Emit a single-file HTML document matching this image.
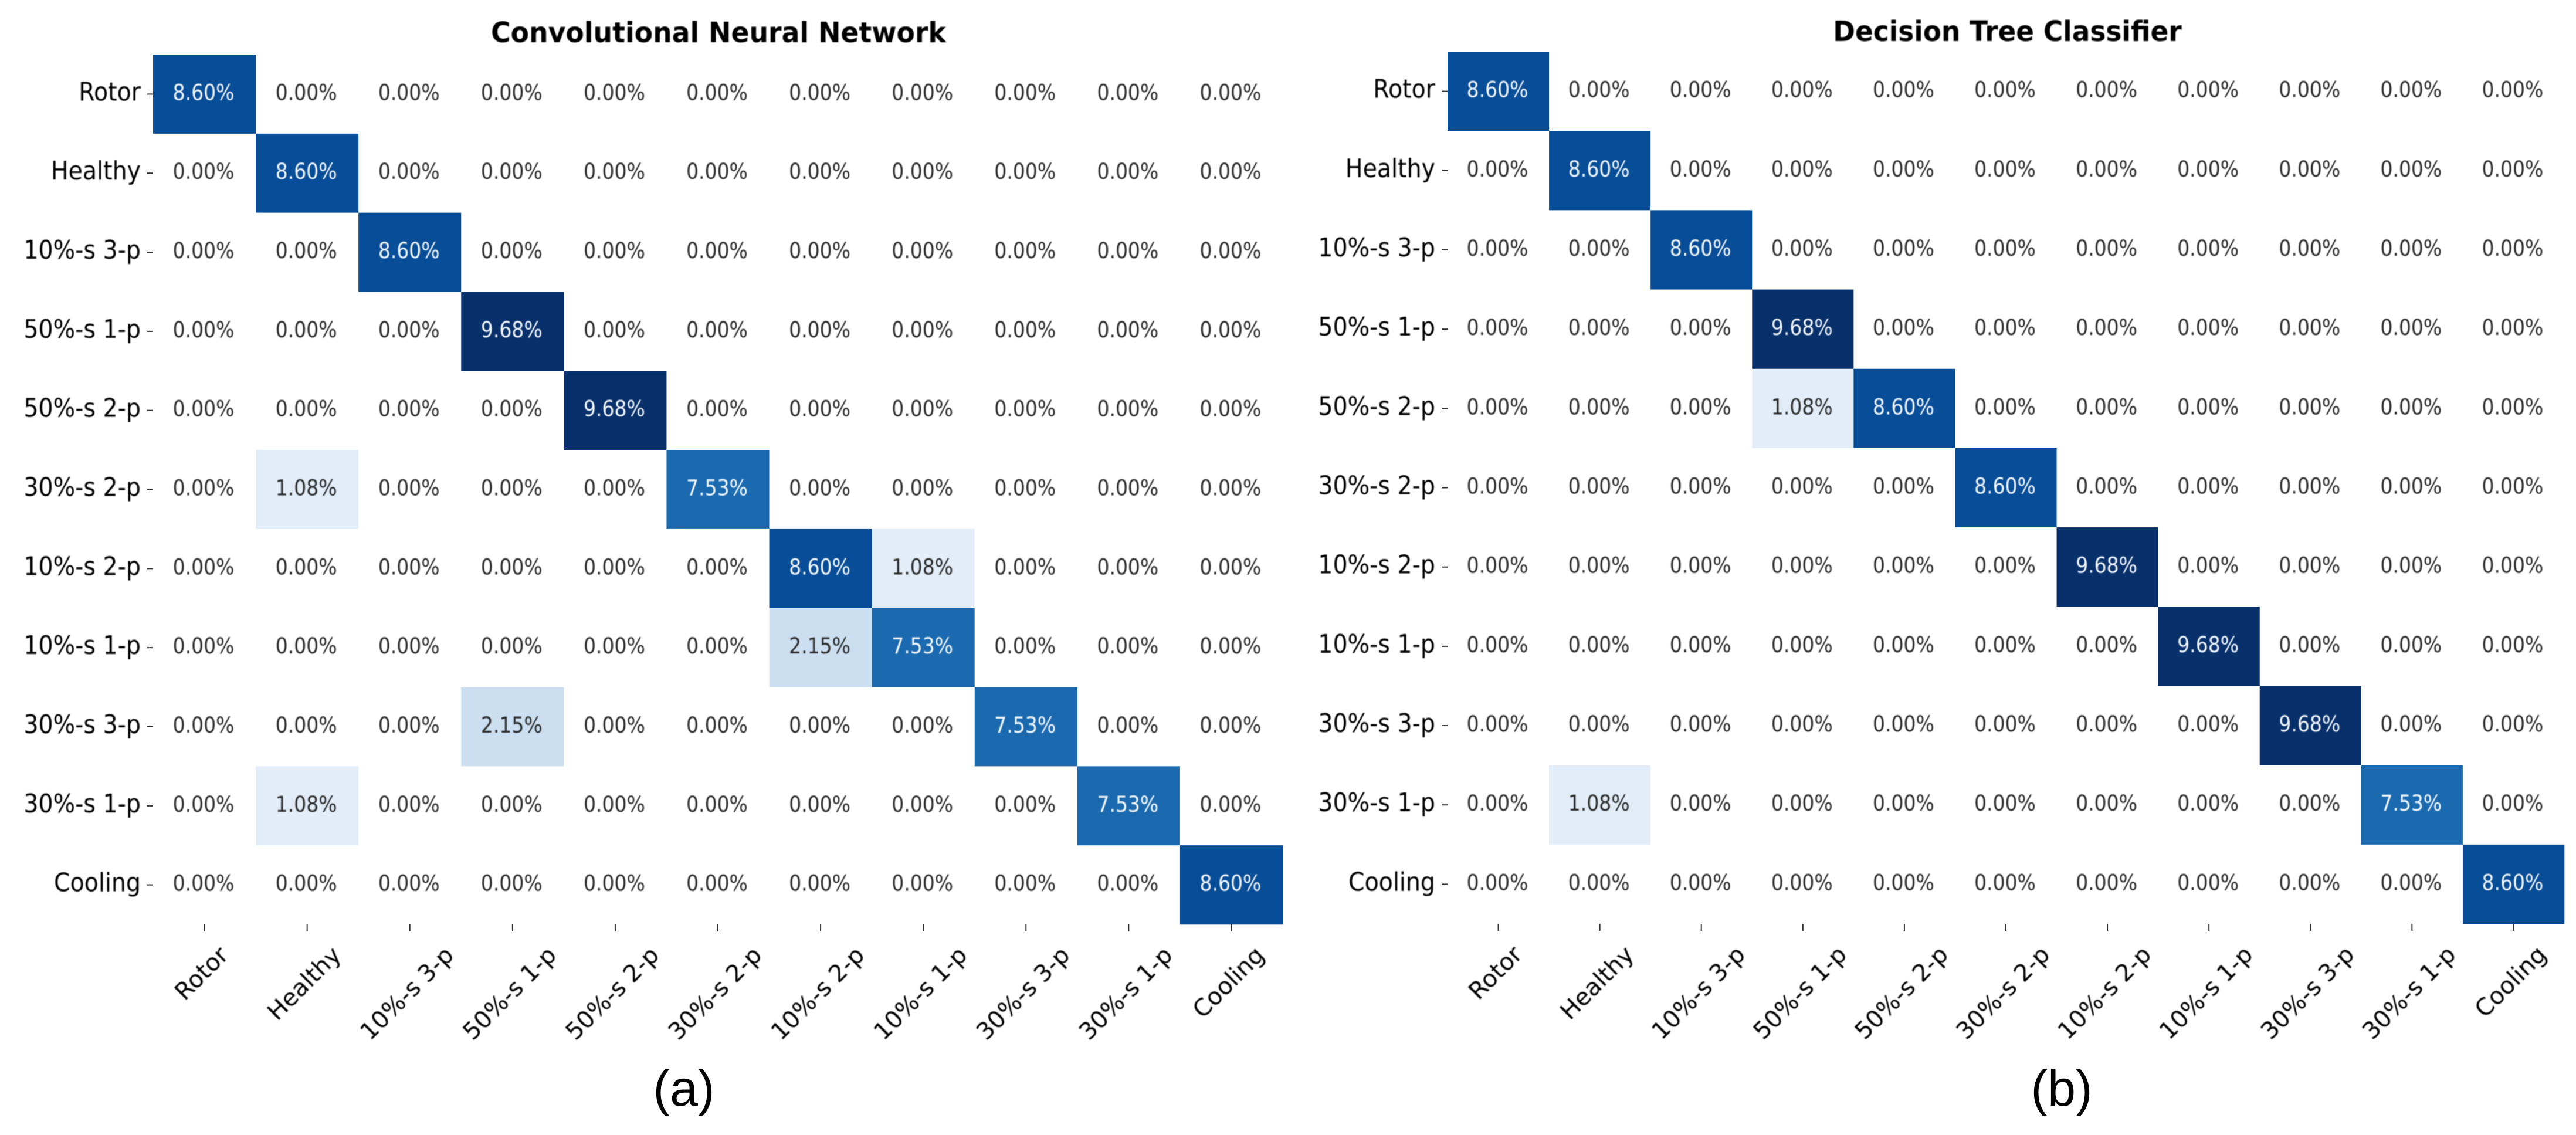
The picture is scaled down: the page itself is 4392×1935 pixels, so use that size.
<!DOCTYPE html>
<html lang="en">
<head>
<meta charset="utf-8">
<title>Confusion matrices</title>
<style>
html,body{margin:0;padding:0;background:#fff;width:4392px;height:1935px;overflow:hidden}
svg{display:block}
text{font-family:"DejaVu Sans","Liberation Sans",sans-serif}
.soft{filter:blur(0.8px)}
</style>
</head>
<body>
<svg id="chart" xmlns="http://www.w3.org/2000/svg" width="4392" height="1935" viewBox="0 0 4392 1935"></svg>
<script>
const categories = ["Rotor","Healthy","10%-s 3-p","50%-s 1-p","50%-s 2-p","30%-s 2-p","10%-s 2-p","10%-s 1-p","30%-s 3-p","30%-s 1-p","Cooling"];
const cnnValues = [
 [8.60,0,0,0,0,0,0,0,0,0,0],
 [0,8.60,0,0,0,0,0,0,0,0,0],
 [0,0,8.60,0,0,0,0,0,0,0,0],
 [0,0,0,9.68,0,0,0,0,0,0,0],
 [0,0,0,0,9.68,0,0,0,0,0,0],
 [0,1.08,0,0,0,7.53,0,0,0,0,0],
 [0,0,0,0,0,0,8.60,1.08,0,0,0],
 [0,0,0,0,0,0,2.15,7.53,0,0,0],
 [0,0,0,2.15,0,0,0,0,7.53,0,0],
 [0,1.08,0,0,0,0,0,0,0,7.53,0],
 [0,0,0,0,0,0,0,0,0,0,8.60]
];
const treeValues = [
 [8.60,0,0,0,0,0,0,0,0,0,0],
 [0,8.60,0,0,0,0,0,0,0,0,0],
 [0,0,8.60,0,0,0,0,0,0,0,0],
 [0,0,0,9.68,0,0,0,0,0,0,0],
 [0,0,0,1.08,8.60,0,0,0,0,0,0],
 [0,0,0,0,0,8.60,0,0,0,0,0],
 [0,0,0,0,0,0,9.68,0,0,0,0],
 [0,0,0,0,0,0,0,9.68,0,0,0],
 [0,0,0,0,0,0,0,0,9.68,0,0],
 [0,1.08,0,0,0,0,0,0,0,7.53,0],
 [0,0,0,0,0,0,0,0,0,0,8.60]
];
const colorStops = ["#ffffff","#deebf7","#c6dbef","#9ecae1","#6baed6","#4292c6","#2171b5","#08519c","#08306b"];
const maxValue = 9.68;

const NS = "http://www.w3.org/2000/svg";
const svg = document.getElementById("chart");

function make(parent, tag, attrs, text) {
  const el = document.createElementNS(NS, tag);
  for (const k in attrs) el.setAttribute(k, attrs[k]);
  if (text !== undefined) el.textContent = text;
  parent.appendChild(el);
  return el;
}
function hexToRgb(h) {
  return [parseInt(h.slice(1,3),16), parseInt(h.slice(3,5),16), parseInt(h.slice(5,7),16)];
}
function colorFor(v) {
  const t = Math.max(0, Math.min(1, v / maxValue)) * (colorStops.length - 1);
  const i = Math.min(colorStops.length - 2, Math.floor(t));
  const f = t - i;
  const a = hexToRgb(colorStops[i]);
  const b = hexToRgb(colorStops[i + 1]);
  return "rgb(" + a.map((c, n) => Math.round(c + (b[n] - c) * f)).join(",") + ")";
}
function place(x, y, sx, sy) {
  return "translate(" + x + "," + y + ") scale(" + sx + "," + sy + ")";
}

function drawPanel(cfg) {
  const xScale = i => cfg.left + i * (cfg.right - cfg.left) / categories.length;
  const yScale = i => cfg.top + i * (cfg.bottom - cfg.top) / categories.length;
  const cw = xScale(1) - xScale(0);
  const ch = yScale(1) - yScale(0);

  const panel = make(svg, "g", {});
  
  

  const title = make(panel, "text", {transform: place(cfg.titleX, cfg.titleY, cfg.titleScale, 1.04), "text-anchor": "middle", "font-size": 46, "font-weight": 700, fill: "#000", class: "soft"}, cfg.title);
  
  

  cfg.values.forEach((row, r) => {
    row.forEach((v, c) => {
      const cell = make(panel, "rect", {x: xScale(c), y: yScale(r), width: cw + 0.3, height: ch + 0.3, fill: colorFor(v)});
      
      
    });
  });
  cfg.values.forEach((row, r) => {
    row.forEach((v, c) => {
      const label = make(panel, "text", {
        transform: place(xScale(c) + cw / 2 - 1.5, yScale(r) + ch / 2 + 10, 1, 1.14),
        "text-anchor": "middle",
        "font-size": 33,
        fill: v > maxValue / 2 ? "#f4f8fd" : "#2a2a2a",
        class: "soft"
      }, v.toFixed(2) + "%");
      
      
    });
  });

  categories.forEach((name, i) => {
    const cy = yScale(i) + ch / 2;
    const tickY = make(panel, "line", {x1: cfg.left - 10, x2: cfg.left, y1: cy, y2: cy, stroke: "#333", "stroke-width": 2});
    
    
    const labelY = make(panel, "text", {transform: place(cfg.left - 21, cy + 11, 1, 1.1), "text-anchor": "end", "font-size": 39.5, fill: "#000", class: "soft"}, name);
    
    

    const cx = xScale(i) + cw / 2;
    const tickX = make(panel, "line", {x1: cx, x2: cx, y1: cfg.bottom, y2: cfg.bottom + 12, stroke: "#333", "stroke-width": 2});
    
    
    const labelX = make(panel, "text", {x: 0, y: 13, "text-anchor": "middle", "font-size": 40.5, fill: "#000", class: "soft"}, name);
    
    
    const len = labelX.getComputedTextLength();
    const midY = cfg.bottom + 31 + (len + 41) * 0.7071 / 2;
    labelX.setAttribute("transform", "translate(" + (cx - 4.5) + "," + midY + ") rotate(-45)");
  });

  const caption = make(panel, "text", {x: cfg.captionX, y: 1885, "text-anchor": "middle", "font-size": 86, fill: "#000"}, cfg.caption);
  caption.style.fontFamily = '"Liberation Sans", sans-serif';
  
  
}

drawPanel({name: "cnn-confusion-matrix", title: "Convolutional Neural Network", titleX: 1225, titleY: 72, titleScale: 0.995, caption: "(a)", captionX: 1166, values: cnnValues, left: 261, right: 2187, top: 93, bottom: 1576});
drawPanel({name: "decision-tree-confusion-matrix", title: "Decision Tree Classifier", titleX: 3422.5, titleY: 70, titleScale: 0.987, caption: "(b)", captionX: 3515, values: treeValues, left: 2468, right: 4372, top: 88, bottom: 1575});
</script>
</body>
</html>
